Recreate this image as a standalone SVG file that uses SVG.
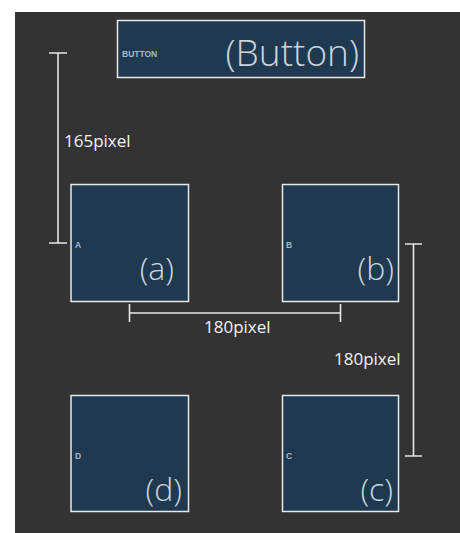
<svg xmlns="http://www.w3.org/2000/svg" width="460" height="533" viewBox="0 0 460 533">
<style>
.box{fill:#1e3950;stroke:#e8e8e8;stroke-width:1.5}
.small{font-family:"Liberation Sans",Arial,sans-serif;font-size:8.5px;font-weight:bold;fill:#a9b8c6}
.big{font-family:"Open Sans","Noto Sans",sans-serif;font-weight:300;fill:#cdd5dc}
.dim{stroke:#e6e6e6;stroke-width:1.6;fill:none}
.dimt{font-family:"Open Sans","Noto Sans",sans-serif;font-size:17px;fill:#f2f2f2}
</style>
<rect x="0" y="0" width="460" height="533" fill="#ffffff"/>
<rect x="15" y="12" width="445" height="521" fill="#333333"/>
<g id="button">
<rect class="box" x="117.5" y="20.5" width="247" height="57"/>
<text class="small" x="122" y="57">BUTTON</text>
<text class="big" x="359" y="66" font-size="37" text-anchor="end">(Button)</text>
</g>
<g id="a">
<rect class="box" x="71" y="184.5" width="117.5" height="117"/>
<text class="small" x="75" y="248">A</text>
<text class="big" x="174" y="280" font-size="32" text-anchor="end">(a)</text>
</g>
<g id="b">
<rect class="box" x="282.5" y="184.5" width="116" height="117"/>
<text class="small" x="286" y="248">B</text>
<text class="big" x="394" y="280" font-size="32" text-anchor="end">(b)</text>
</g>
<g id="d">
<rect class="box" x="71" y="395.5" width="117.5" height="116"/>
<text class="small" x="75" y="459">D</text>
<text class="big" x="182" y="501" font-size="32" text-anchor="end">(d)</text>
</g>
<g id="c">
<rect class="box" x="282.5" y="395.5" width="116" height="116"/>
<text class="small" x="286" y="459">C</text>
<text class="big" x="393" y="501" font-size="32" text-anchor="end">(c)</text>
</g>
<g id="connectors">
<path class="dim" d="M58 53V243M49 53H67M49 243H67"/>
<path class="dim" d="M129.5 313H340.5M129.5 304V322M340.5 304V322"/>
<path class="dim" d="M413.5 244V456M405 244H422M405 456H422"/>
<text class="dimt" x="64" y="147">165pixel</text>
<text class="dimt" x="204" y="333">180pixel</text>
<text class="dimt" x="334" y="365">180pixel</text>
</g>
</svg>
